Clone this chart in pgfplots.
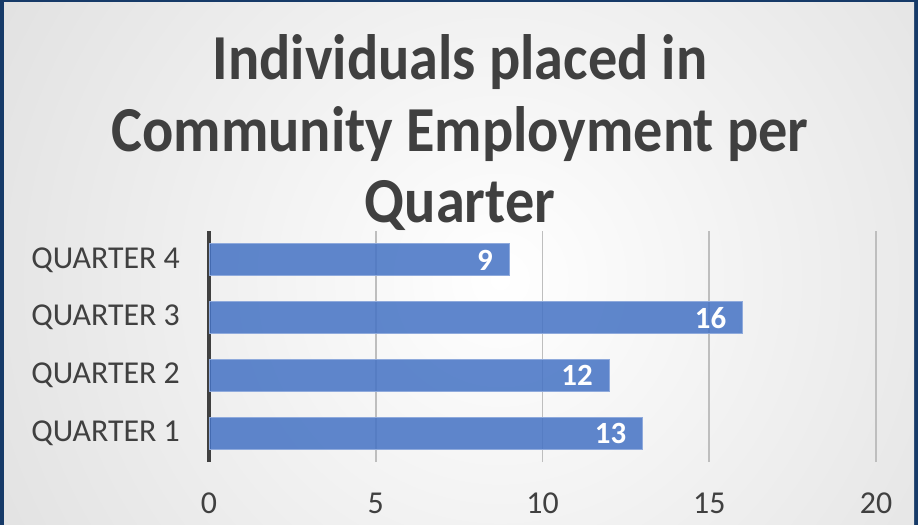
\documentclass[border=0pt]{standalone}
\usepackage{pgfplots}
\pgfplotsset{compat=1.18}
\usepackage{fontspec}
\setmainfont{Carlito}
\definecolor{barblue}{RGB}{68,114,196}
\definecolor{txt}{RGB}{64,64,64}
\definecolor{frame}{RGB}{22,58,104}
\definecolor{gridc}{RGB}{190,190,190}
\newcommand\ttl[1]{\scalebox{1}[1.1]{#1}}

\begin{document}
\begin{tikzpicture}
% frame and background
\fill[frame] (0,0) rectangle (918bp,525bp);
\begin{scope}
\clip (4bp,0) rectangle (914bp,522bp);
\shade[inner color=white, outer color=black!25] (500bp,245bp) circle (1240bp);
\end{scope}

% title
\node[anchor=base, text=txt, font=\fontsize{58.5}{70}\selectfont\bfseries] at (460bp,445bp) {\ttl{Individuals placed in}};
\node[anchor=base, text=txt, font=\fontsize{58.5}{70}\selectfont\bfseries] at (460bp,373bp) {\ttl{Community Employment per}};
\node[anchor=base, text=txt, font=\fontsize{58.5}{70}\selectfont\bfseries] at (460bp,302bp) {\ttl{Quarter}};

\begin{axis}[
    at={(209bp,63bp)}, anchor=south west,
    scale only axis,
    width=667bp, height=231bp,
    xbar, bar width=32bp,
    xmin=0, xmax=20,
    ymin=-0.5, ymax=3.5,
    xtick={0,5,10,15,20},
    ytick={0,1,2,3},
    yticklabels={QUARTER 1, QUARTER 2, QUARTER 3, QUARTER 4},
    major tick length=0pt,
    axis x line*=bottom, axis y line*=left,
    x axis line style={draw=none},
    y axis line style={draw=txt, line width=3.5bp},
    xmajorgrids, major grid style={draw=gridc, line width=1.6bp},
    /pgf/number format/assume math mode=true,
    ticklabel style={text=txt, font=\fontsize{32}{38}\selectfont, inner sep=0pt},
    xticklabel style={anchor=north, yshift=-31bp},
    yticklabel style={anchor=east, xshift=-29bp},
    nodes near coords,
    every node near coord/.append style={anchor=east, xshift=-16bp, inner sep=0pt,
        text=white, font=\fontsize{31}{36}\selectfont\bfseries, text opacity=1},
]
\addplot[fill=barblue, fill opacity=0.85, draw=barblue!60, line width=0.8bp] coordinates {
(13,0) (12,1) (16,2) (9,3)
};
\end{axis}
\pgfresetboundingbox
\useasboundingbox (0,0) rectangle (918bp,525bp);
\end{tikzpicture}
\end{document}
